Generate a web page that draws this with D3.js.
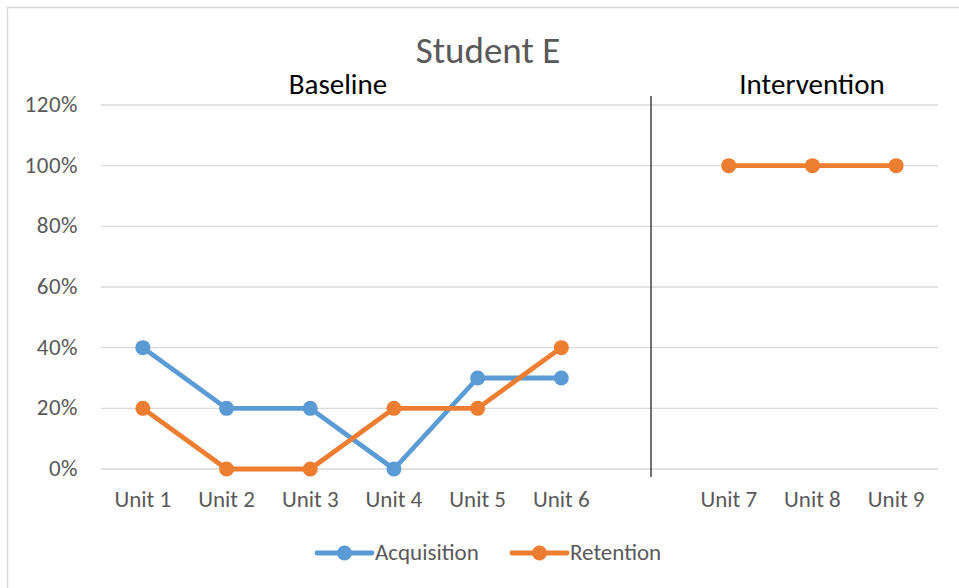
<!DOCTYPE html>
<html>
<head>
<meta charset="utf-8">
<script src="https://cdn.jsdelivr.net/npm/d3@7"></script>
<style>
  body { margin: 0; background: #fff; }
  svg { display: block; font-family: Carlito, Calibri, Lato, "Open Sans", sans-serif; }
</style>
</head>
<body>
<svg id="chart"></svg>
<script>
// categories (blank slot separates the phases)
const categories = ['Unit 1', 'Unit 2', 'Unit 3', 'Unit 4', 'Unit 5', 'Unit 6', '', 'Unit 7', 'Unit 8', 'Unit 9'];
const acquisition = [0.4, 0.2, 0.2, 0, 0.3, 0.3, null, null, null, null];
const retention = [0.2, 0, 0, 0.2, 0.2, 0.4, null, 1, 1, 1];
const yTicks = [0, 0.2, 0.4, 0.6, 0.8, 1.0, 1.2];
const phases = [{ label: 'Baseline', x: 338 }, { label: 'Intervention', x: 812 }];

const width = 959, height = 588;
const margin = { top: 105, right: 21, bottom: 119, left: 101 };

const svg = d3.select('#chart').attr('width', width).attr('height', height);

// chart border (runs off the picture to the right and bottom)
svg.append('rect')
  .attr('x', 7.5).attr('y', 7.5)
  .attr('width', width + 10).attr('height', height + 10)
  .attr('fill', 'none').attr('stroke', '#d9d9d9').attr('stroke-width', 1.5);

const x = d3.scaleBand()
  .domain(d3.range(categories.length))
  .range([margin.left, width - margin.right]);

const y = d3.scaleLinear()
  .domain([0, 1.2])
  .range([height - margin.bottom, margin.top]);

const cx = i => x(i) + x.bandwidth() / 2;

// gridlines
svg.append('g')
  .selectAll('line')
  .data(yTicks)
  .join('line')
  .attr('x1', margin.left).attr('x2', width - margin.right)
  .attr('y1', d => y(d)).attr('y2', d => y(d))
  .attr('stroke', '#d9d9d9').attr('stroke-width', 1.3);

// y labels
svg.append('g')
  .selectAll('text')
  .data(yTicks)
  .join('text')
  .attr('x', 78)
  .attr('y', d => y(d) + 7)
  .attr('text-anchor', 'end')
  .attr('fill', '#595959')
  .attr('font-size', 23)
  .attr('letter-spacing', 0.5)
  .text(d => d3.format('.0%')(d));

// x labels
svg.append('g')
  .selectAll('text')
  .data(categories)
  .join('text')
  .attr('x', (d, i) => cx(i))
  .attr('y', 507)
  .attr('text-anchor', 'middle')
  .attr('fill', '#595959')
  .attr('font-size', 23)
  .text(d => d);

// phase change line
svg.append('line')
  .attr('x1', 651).attr('x2', 651)
  .attr('y1', 96).attr('y2', 477)
  .attr('stroke', '#404040').attr('stroke-width', 1.5);

// title + phase labels
svg.append('text')
  .attr('x', 488).attr('y', 63)
  .attr('text-anchor', 'middle')
  .attr('fill', '#595959')
  .attr('font-size', 37)
  .text('Student E');

svg.append('g')
  .selectAll('text')
  .data(phases)
  .join('text')
  .attr('x', d => d.x).attr('y', 94)
  .attr('text-anchor', 'middle')
  .attr('fill', '#000')
  .attr('font-size', 29)
  .text(d => d.label);

const series = [
  { name: 'Acquisition', values: acquisition, color: '#5b9bd5' },
  { name: 'Retention', values: retention, color: '#ed7d31' }
];

const line = d3.line()
  .defined(d => d.v != null)
  .x(d => cx(d.i))
  .y(d => y(d.v));

series.forEach(s => {
  const pts = s.values.map((v, i) => ({ i, v }));
  svg.append('path')
    .datum(pts)
    .attr('d', line)
    .attr('fill', 'none')
    .attr('stroke', s.color)
    .attr('stroke-width', 4.8)
    .attr('stroke-linejoin', 'round');
  svg.append('g')
    .selectAll('circle')
    .data(pts.filter(d => d.v != null))
    .join('circle')
    .attr('cx', d => cx(d.i))
    .attr('cy', d => y(d.v))
    .attr('r', 7.5)
    .attr('fill', s.color);
});

// legend
const legendX = [317, 512];
series.forEach((s, k) => {
  const g = svg.append('g').attr('transform', `translate(${legendX[k]},553)`);
  g.append('line')
    .attr('x1', 0).attr('x2', 55)
    .attr('stroke', s.color).attr('stroke-width', 4.8).attr('stroke-linecap', 'round');
  g.append('circle').attr('cx', 27.5).attr('r', 7.5).attr('fill', s.color);
  g.append('text')
    .attr('x', 58).attr('y', 7)
    .attr('fill', '#595959')
    .attr('font-size', 23)
    .text(s.name);
});
</script>
</body>
</html>
